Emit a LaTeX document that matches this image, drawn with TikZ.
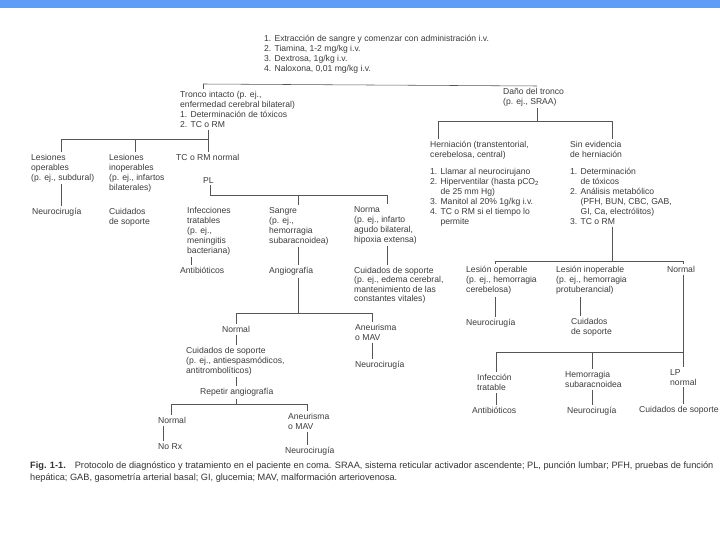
\documentclass[tikz,border=0pt]{standalone}
\usepackage{fontspec}
\setmainfont{Liberation Sans}
\definecolor{txtc}{HTML}{3C3C3C}
\definecolor{linec}{HTML}{555555}
\definecolor{barc}{HTML}{5E9CF8}
\definecolor{capc}{HTML}{333333}
\begin{document}
\begin{tikzpicture}[x=1pt,y=-1pt,
  txt/.style={font=\fontsize{8.6}{10}\selectfont, text=txtc, align=left, anchor=north west, inner xsep=0pt, inner ysep=2pt},
  tighttxt/.style={txt, font=\fontsize{8.6}{9.4}\selectfont},
  captxt/.style={font=\fontsize{9.2}{12}\selectfont, text=capc, align=left, anchor=north west, inner xsep=0pt, inner ysep=2pt},
  ln/.style={draw=linec, line width=0.55pt}]
\useasboundingbox (0,0) rectangle (720,540);
\fill[white] (0,0) rectangle (720,540);
\fill[barc] (0,0) rectangle (720,8.5);

% ---------- nodes ----------
\node[txt] (hdr) at (264,33) {1. Extracción de sangre y comenzar con administración i.v.\\2. Tiamina, 1-2 mg/kg i.v.\\3. Dextrosa, 1g/kg i.v.\\4. Naloxona, 0,01 mg/kg i.v.};
\node[txt] (tronco) at (180,89) {Tronco intacto (p. ej.,\\enfermedad cerebral bilateral)\\1. Determinación de tóxicos\\2. TC o RM};
\node[txt] (dano) at (503,86) {Daño del tronco\\(p. ej., SRAA)};

\node[txt] (lop) at (31,152) {Lesiones\\operables\\(p. ej., subdural)};
\node[txt] (linop) at (109,152) {Lesiones\\inoperables\\(p. ej., infartos\\bilaterales)};
\node[txt] (tcn) at (176,152) {TC o RM normal};
\node[txt] (pl) at (203,175) {PL};
\node[txt] (neu1) at (32,206) {Neurocirugía};
\node[txt] (cui1) at (109,206) {Cuidados\\de soporte};

\node[txt] (inf) at (187,205) {Infecciones\\tratables\\(p. ej.,\\meningitis\\bacteriana)};
\node[txt] (sang) at (269,205) {Sangre\\(p. ej.,\\hemorragia\\subaracnoidea)};
\node[txt] (norma) at (354,204) {Norma\\(p. ej., infarto\\agudo bilateral,\\hipoxia extensa)};
\node[txt] (anti1) at (180,265) {Antibióticos};
\node[txt] (angio) at (269,265) {Angiografía};
\node[tighttxt] (cui2) at (354,265) {Cuidados de soporte\\(p. ej., edema cerebral,\\mantenimiento de las\\constantes vitales)};

\node[txt] (norm2) at (222,324) {Normal};
\node[txt] (aneu1) at (355,322) {Aneurisma\\o MAV};
\node[txt] (cui3) at (186,345) {Cuidados de soporte\\(p. ej., antiespasmódicos,\\antitrombolíticos)};
\node[txt] (neu2) at (355,359) {Neurocirugía};
\node[txt] (rep) at (200,386) {Repetir angiografía};
\node[txt] (norm3) at (158,415) {Normal};
\node[txt] (aneu2) at (288,411) {Aneurisma\\o MAV};
\node[txt] (norx) at (158,441) {No Rx};
\node[txt] (neu3) at (285,445) {Neurocirugía};

\node[txt] (hern) at (430,139) {Herniación (transtentorial,\\cerebelosa, central)\\[7pt]1. Llamar al neurocirujano\\2. Hiperventilar (hasta pCO\textsubscript{2}\\\hphantom{2. }de 25 mm Hg)\\3. Manitol al 20\% 1g/kg i.v.\\4. TC o RM si el tiempo lo\\\hphantom{4. }permite};
\node[txt] (sinev) at (570,139) {Sin evidencia\\de herniación\\[7pt]1. Determinación\\\hphantom{1. }de tóxicos\\2. Análisis metabólico\\\hphantom{2. }(PFH, BUN, CBC, GAB,\\\hphantom{2. }GI, Ca, electrólitos)\\3. TC o RM};

\node[txt] (lesop) at (466,264) {Lesión operable\\(p. ej., hemorragia\\cerebelosa)};
\node[txt] (lesinop) at (556,264) {Lesión inoperable\\(p. ej., hemorragia\\protuberancial)};
\node[txt] (normR) at (667,264) {Normal};
\node[txt] (neu4) at (466,317) {Neurocirugía};
\node[txt] (cui4) at (571,316) {Cuidados\\de soporte};
\node[txt] (infR) at (477,372) {Infección\\tratable};
\node[txt] (hemR) at (565,369) {Hemorragia\\subaracnoidea};
\node[txt] (lpn) at (670,367) {LP\\normal};
\node[txt] (antiR) at (472,405) {Antibióticos};
\node[txt] (neuR) at (567,405) {Neurocirugía};
\node[txt] (cuiR) at (639,404) {Cuidados de soporte};

\node[captxt] (cap) at (30,460) {\textbf{Fig. 1-1.}\hspace{9pt}Protocolo de diagnóstico y tratamiento en el paciente en coma. SRAA, sistema reticular activador ascendente; PL, punción lumbar; PFH, pruebas de función\\hepática; GAB, gasometría arterial basal; GI, glucemia; MAV, malformación arteriovenosa.};

% ---------- junction coordinates ----------
\coordinate (b1L) at (203,84);  \coordinate (b1R) at (537,86);
\coordinate (b2L) at (61,139);  \coordinate (b2M) at (135,139); \coordinate (b2R) at (208,139);
\coordinate (b3L) at (210,195); \coordinate (b3M) at (298,195); \coordinate (b3R) at (387,195);
\coordinate (b4L) at (236,313); \coordinate (b4M) at (298,313); \coordinate (b4R) at (372,313);
\coordinate (b5L) at (171,404); \coordinate (b5M) at (236,404); \coordinate (b5R) at (307,404);
\coordinate (b6L) at (438,121); \coordinate (b6M) at (537,121); \coordinate (b6R) at (612,121);
\coordinate (b7L) at (495,261); \coordinate (b7M) at (612,261); \coordinate (b7R) at (683,261);
\coordinate (b8L) at (496,352); \coordinate (b8M) at (592,352); \coordinate (b8R) at (683,352);
\coordinate (c191) at (191,0); \coordinate (c163) at (163,0); \coordinate (c580) at (580,0);

% ---------- connectors ----------
\draw[ln] (b1L) -- (b1R);
\draw[ln] (b1L) -- (b1L |- tronco.north);
\draw[ln] (b1R) -- (b1R |- dano.north);

\draw[ln] (b2R |- tronco.south) -- (b2R |- tcn.north);
\draw[ln] (b2L) -- (b2R);
\draw[ln] (b2L) -- (b2L |- lop.north);
\draw[ln] (b2M) -- (b2M |- linop.north);
\draw[ln] (b2L |- lop.south) -- (b2L |- neu1.north);

\draw[ln] (b3L |- pl.south) -- (b3L);
\draw[ln] (b3L) -- (b3R);
\draw[ln] (b3M) -- (b3M |- sang.north);
\draw[ln] (b3R) -- (b3R |- norma.north);
\draw[ln] (c191 |- inf.south) -- (c191 |- anti1.north);
\draw[ln] (b3M |- sang.south) -- (b3M |- angio.north);
\draw[ln] (b3R |- norma.south) -- (b3R |- cui2.north);

\draw[ln] (b4M |- angio.south) -- (b4M);
\draw[ln] (b4L) -- (b4R);
\draw[ln] (b4L) -- (b4L |- norm2.north);
\draw[ln] (b4R) -- (b4R |- aneu1.north);
\draw[ln] (b4L |- norm2.south) -- (b4L |- cui3.north);
\draw[ln] (b4L |- cui3.south) -- (b4L |- rep.north);
\draw[ln] (b4R |- aneu1.south) -- (b4R |- neu2.north);

\draw[ln] (b5M |- rep.south) -- (b5M);
\draw[ln] (b5L) -- (b5R);
\draw[ln] (b5L) -- (b5L |- norm3.north);
\draw[ln] (b5R) -- (b5R |- aneu2.north);
\draw[ln] (c163 |- norm3.south) -- (c163 |- norx.north);
\draw[ln] (b5R |- aneu2.south) -- (b5R |- neu3.north);

\draw[ln] (b6M |- dano.south) -- (b6M);
\draw[ln] (b6L) -- (b6R);
\draw[ln] (b6L) -- (b6L |- hern.north);
\draw[ln] (b6R) -- (b6R |- sinev.north);

\draw[ln] (b7M |- sinev.south) -- (b7M);
\draw[ln] (b7L) -- (b7R);
\draw[ln] (b7L) -- (b7L |- lesop.north);
\draw[ln] (b7R) -- (b7R |- normR.north);
\draw[ln] (b7L |- lesop.south) -- (b7L |- neu4.north);
\draw[ln] (c580 |- lesinop.south) -- (c580 |- cui4.north);

\draw[ln] (b8R |- normR.south) -- (b8R);
\draw[ln] (b8L) -- (b8R);
\draw[ln] (b8L) -- (b8L |- infR.north);
\draw[ln] (b8M) -- (b8M |- hemR.north);
\draw[ln] (b8R) -- (b8R |- lpn.north);
\draw[ln] (b8L |- infR.south) -- (b8L |- antiR.north);
\draw[ln] (b8M |- hemR.south) -- (b8M |- neuR.north);
\draw[ln] (b8R |- lpn.south) -- (b8R |- cuiR.north);
\end{tikzpicture}
\end{document}
